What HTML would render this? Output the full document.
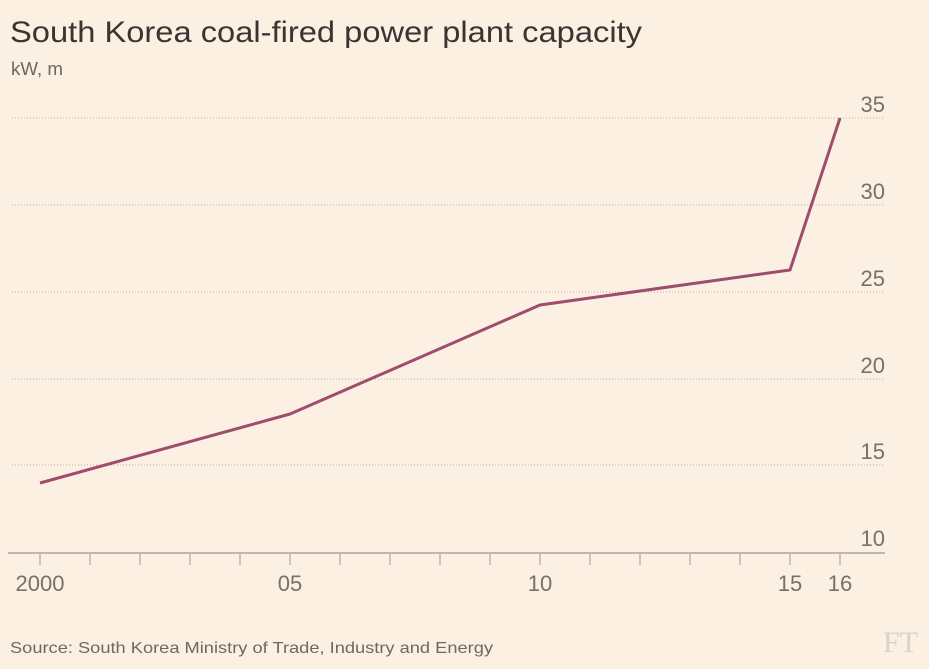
<!DOCTYPE html>
<html><head><style>
html,body{margin:0;padding:0;background:#fcf0e2;}
svg{display:block;font-family:"Liberation Sans",sans-serif;}
</style></head><body>
<svg width="929" height="669" viewBox="0 0 929 669">
<rect width="929" height="669" fill="#fcf0e2"/>
<text x="10" y="42" font-size="30" fill="#3a3532" textLength="632" lengthAdjust="spacingAndGlyphs">South Korea coal-fired power plant capacity</text>
<text x="11" y="75" font-size="18" fill="#6e6864" textLength="52" lengthAdjust="spacingAndGlyphs">kW, m</text>
<g stroke="#b9aea4" stroke-width="1" stroke-dasharray="1,2">
<line x1="12" y1="118" x2="885" y2="118"/>
<line x1="12" y1="205" x2="885" y2="205"/>
<line x1="12" y1="292" x2="885" y2="292"/>
<line x1="12" y1="379" x2="885" y2="379"/>
<line x1="12" y1="465" x2="885" y2="465"/>
</g>
<g font-size="22" fill="#77706b" text-anchor="end">
<text x="885" y="112">35</text>
<text x="885" y="199">30</text>
<text x="885" y="286">25</text>
<text x="885" y="373">20</text>
<text x="885" y="459">15</text>
<text x="885" y="546">10</text>
</g>
<line x1="8" y1="553" x2="885" y2="553" stroke="#c2b6ab" stroke-width="2"/>
<g stroke="#c2b6ab" stroke-width="1.5">
<line x1="40" y1="553" x2="40" y2="565"/><line x1="90" y1="553" x2="90" y2="565"/>
<line x1="140" y1="553" x2="140" y2="565"/><line x1="190" y1="553" x2="190" y2="565"/>
<line x1="240" y1="553" x2="240" y2="565"/><line x1="290" y1="553" x2="290" y2="565"/>
<line x1="340" y1="553" x2="340" y2="565"/><line x1="390" y1="553" x2="390" y2="565"/>
<line x1="440" y1="553" x2="440" y2="565"/><line x1="490" y1="553" x2="490" y2="565"/>
<line x1="540" y1="553" x2="540" y2="565"/><line x1="590" y1="553" x2="590" y2="565"/>
<line x1="640" y1="553" x2="640" y2="565"/><line x1="690" y1="553" x2="690" y2="565"/>
<line x1="740" y1="553" x2="740" y2="565"/><line x1="790" y1="553" x2="790" y2="565"/>
<line x1="840" y1="553" x2="840" y2="565"/>
</g>
<g font-size="22" fill="#77706b" text-anchor="middle">
<text x="40" y="591">2000</text>
<text x="290" y="591">05</text>
<text x="540" y="591">10</text>
<text x="790" y="591">15</text>
<text x="840" y="591">16</text>
</g>
<polyline points="40,483 290,414 540,305 790,270 840,118" fill="none" stroke="#9e4d6c" stroke-width="3" stroke-linejoin="round"/>
<text x="10" y="653" font-size="16" fill="#6e6864" textLength="483" lengthAdjust="spacingAndGlyphs">Source: South Korea Ministry of Trade, Industry and Energy</text>
<text x="918" y="652" font-size="30" fill="#ddd2c8" text-anchor="end" font-family="Liberation Serif,serif">FT</text>
</svg>
</body></html>
